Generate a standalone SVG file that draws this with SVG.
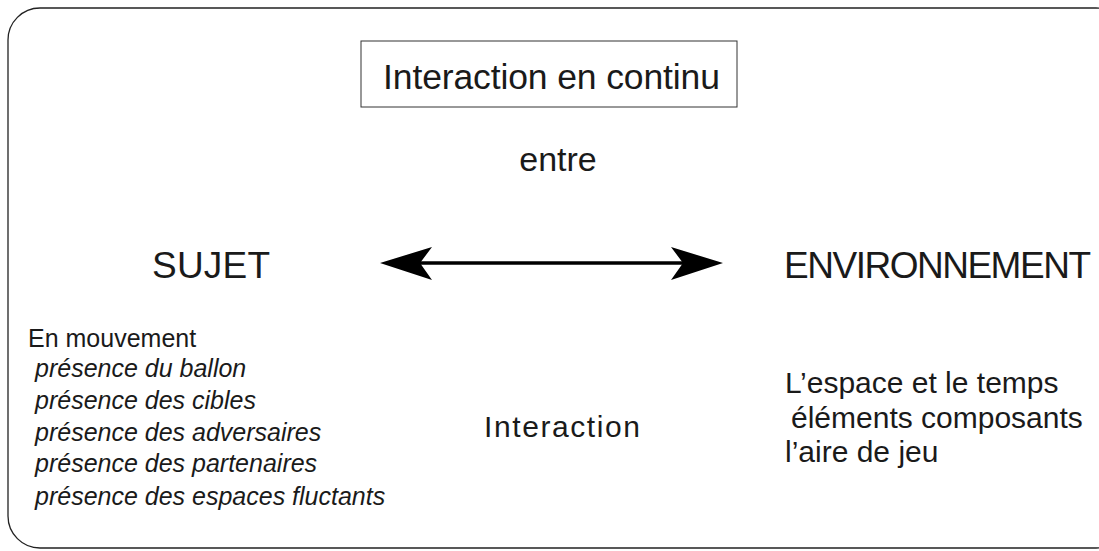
<svg xmlns="http://www.w3.org/2000/svg" width="1099" height="551" viewBox="0 0 1099 551">
<style>
text{font-family:"Liberation Sans",Arial,sans-serif;fill:#1a1a1a}
.it{font-style:italic;font-size:25px}
.r{font-size:30px}
</style>
<rect x="0" y="0" width="1099" height="551" fill="#fff"/>
<g id="frame"><rect x="8" y="8" width="1120" height="540" rx="32" ry="32" fill="none" stroke="#222" stroke-width="1.3"/></g>
<g id="title"><rect x="361" y="41" width="376" height="66" fill="none" stroke="#333" stroke-width="1"/><text x="383" y="89" font-size="35.5" textLength="337">Interaction en continu</text></g>
<g id="entre"><text x="558" y="171" font-size="34" text-anchor="middle">entre</text></g>
<g id="sujet"><text x="152" y="278" font-size="37" textLength="118">SUJET</text>
<text x="28" y="347" font-size="25">En mouvement</text>
<text class="it" x="35" y="377">présence du ballon</text>
<text class="it" x="35" y="409">présence des cibles</text>
<text class="it" x="35" y="441">présence des adversaires</text>
<text class="it" x="35" y="472">présence des partenaires</text>
<text class="it" x="35" y="505">présence des espaces fluctants</text></g>
<g id="env"><text x="784" y="278" font-size="37" textLength="307">ENVIRONNEMENT</text>
<text class="r" x="785" y="393">L’espace et le temps</text>
<text class="r" x="791" y="428">éléments composants</text>
<text class="r" x="785" y="462">l’aire de jeu</text></g>
<g id="interaction"><text x="484" y="437" font-size="30" textLength="156">Interaction</text></g>
<g id="connectors">
<line x1="415" y1="263" x2="688" y2="263" stroke="#000" stroke-width="3.5"/>
<path d="M380,263 L432,247 L420,263 L432,280 Z" fill="#000"/>
<path d="M723,263 L671,247 L683,263 L671,280 Z" fill="#000"/>
</g>
</svg>
